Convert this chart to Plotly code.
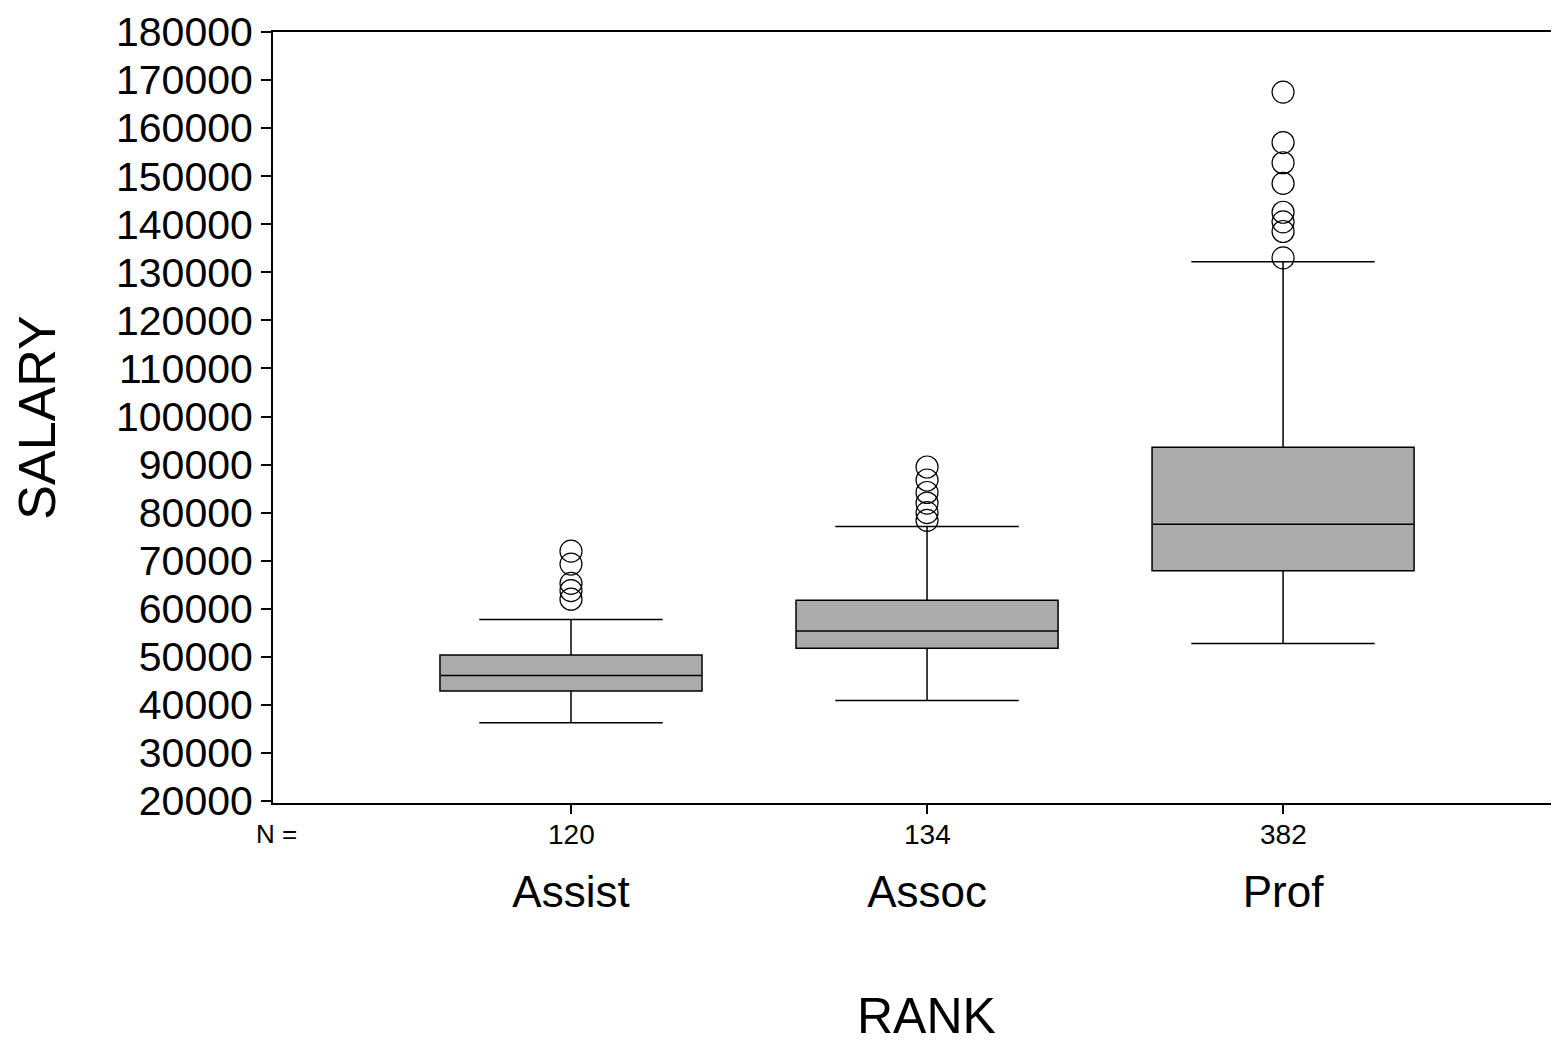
import plotly.graph_objects as go

# ---- data ----
ranks = ["Assist", "Assoc", "Prof"]
n_counts = [120, 134, 382]
q1 = [42900, 51800, 67900]
medians = [46100, 55400, 77600]
q3 = [50400, 61800, 93600]
lower_whisker = [36300, 40900, 52800]
upper_whisker = [57800, 77100, 132200]
outliers = {
    "Assist": [72000, 69300, 65300, 63800, 62000],
    "Assoc": [89500, 86800, 84200, 82000, 80000, 78400],
    "Prof": [167500, 157000, 152800, 148500, 142500, 140500, 138500, 133000],
}
y_ticks = [20000, 30000, 40000, 50000, 60000, 70000, 80000, 90000, 100000,
           110000, 120000, 130000, 140000, 150000, 160000, 170000, 180000]

FONT = "Arial, Liberation Sans, sans-serif"

fig = go.Figure()
fig.add_trace(go.Box(
    x=ranks, q1=q1, median=medians, q3=q3,
    lowerfence=lower_whisker, upperfence=upper_whisker,
    width=0.736, whiskerwidth=0.7,
    fillcolor="#ababab",
    line=dict(color="black", width=1.5),
    boxpoints=False, showlegend=False, hoverinfo="skip",
))
for r in ranks:
    fig.add_trace(go.Scatter(
        x=[r] * len(outliers[r]), y=outliers[r], mode="markers",
        marker=dict(symbol="circle-open", size=22,
                    line=dict(color="black", width=1.2), color="black"),
        showlegend=False, hoverinfo="skip",
    ))

annotations = [dict(x=0, xref="paper", y=0, yref="paper", text="N =",
                    showarrow=False, xanchor="center", yanchor="top",
                    xshift=3, yshift=-14, font=dict(size=26, family=FONT, color="black"))]
for r, n in zip(ranks, n_counts):
    annotations.append(dict(x=r, xref="x", y=0, yref="paper", text=str(n),
                            showarrow=False, xanchor="center", yanchor="top",
                            yshift=-14, font=dict(size=28, family=FONT, color="black")))
annotations.append(dict(x=0.5, xref="paper", y=0, yref="paper", text="RANK",
                        showarrow=False, xanchor="center", yanchor="middle",
                        xshift=10, yshift=-213, font=dict(size=50, family=FONT, color="black")))

fig.update_layout(
    width=1551, height=1039,
    margin=dict(l=265, r=0, t=24, b=244),
    plot_bgcolor="white", paper_bgcolor="white",
    font=dict(family=FONT, color="black"),
    annotations=annotations,
    xaxis=dict(
        type="category", categoryorder="array", categoryarray=ranks,
        range=[-0.837, 2.775], automargin=False,
        showline=True, linecolor="black", linewidth=2, mirror=True,
        ticks="outside", ticklen=9, tickcolor="black", tickwidth=1.5,
        tickfont=dict(size=44, family=FONT, color="black"),
        ticklabelstandoff=40,
        showgrid=False, zeroline=False,
    ),
    yaxis=dict(
        range=[19600, 180000], automargin=False,
        tickvals=y_ticks, ticktext=[str(v) for v in y_ticks],
        showline=True, linecolor="black", linewidth=2,
        ticks="outside", ticklen=10, tickcolor="black", tickwidth=1.5,
        tickfont=dict(size=41, family=FONT, color="black"),
        showgrid=False, zeroline=False,
        title=dict(text="SALARY", font=dict(size=52, family=FONT, color="black"), standoff=58),
    ),
)

fig.write_html("out.html")
